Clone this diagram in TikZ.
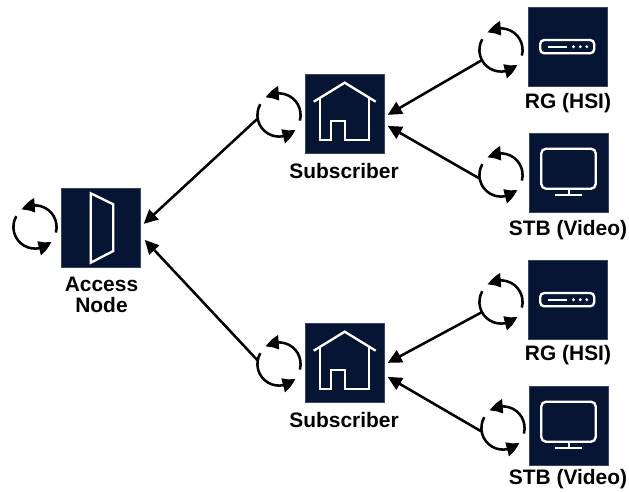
\documentclass[tikz,border=0pt]{standalone}
\usepackage{fontspec}
\setmainfont{Liberation Sans}
\usetikzlibrary{arrows.meta,bending}
\definecolor{navy}{HTML}{071535}
\tikzset{
  x=.75pt,y=.75pt,
  boxnode/.style={draw=navy!80!white,line width=.4pt,fill=navy,minimum size=59.4pt,inner sep=0pt,anchor=north west},
  icon/.style={draw=white,line width=1.75pt,line join=miter},
  cycnode/.style={circle,minimum size=32.5pt,inner sep=0pt},
  cycarc/.style={draw=black,line width=1.9pt,-{Triangle[length=10.5pt,width=10.5pt,bend]}},
  conn/.style={draw=black,line width=1.9pt,-{Triangle[length=10.5pt,width=10pt]}},
  lbl/.style={font=\fontsize{15.7}{16}\selectfont\bfseries,text=black,align=center,inner sep=0pt}
}
\newcommand{\cyc}[3]{%
  \node[cycnode] (#1) at (#2,-#3) {};
  \draw[cycarc] ([shift={(-15:16.2pt)}]#1.center) arc[start angle=-15,end angle=128,radius=16.2pt];
  \draw[cycarc] ([shift={(150:16.2pt)}]#1.center) arc[start angle=150,end angle=318,radius=16.2pt];
}
\newcommand{\house}[1]{%
  \begin{scope}[shift={(#1.north west)}]
    \draw[icon] (8.7,-27.7) -- (39.7,-8.7) -- (70.7,-27.7);
    \draw[icon] (15.3,-24) -- (15.3,-66) -- (26.3,-66) -- (26.3,-46.7) -- (39.7,-46.7) -- (39.7,-66) -- (64,-66) -- (64,-24);
  \end{scope}}
\newcommand{\rgicon}[1]{%
  \begin{scope}[shift={(#1.north west)}]
    \draw[icon,rounded corners=3pt] (12.7,-33) rectangle (66.7,-46.3);
    \draw[icon] (20,-39.7) -- (39.3,-39.7);
    \fill[white] (46,-39.7) circle (1.6) (52.7,-39.7) circle (1.6) (59.3,-39.7) circle (1.6);
  \end{scope}}
\newcommand{\stbicon}[1]{%
  \begin{scope}[shift={(#1.north west)}]
    \draw[icon,rounded corners=3.5pt] (12.3,-15.7) rectangle (66.7,-55.7);
    \draw[icon] (39.7,-55.7) -- (39.7,-62.3);
    \draw[icon] (26.3,-62.3) -- (53,-62.3);
  \end{scope}}
\begin{document}
\begin{tikzpicture}
\useasboundingbox (0,-492) rectangle (629,0);
% boxes
\node[boxnode] (A) at (61,-188) {};
\node[boxnode] (S1) at (305,-74) {};
\node[boxnode] (S2) at (305,-323) {};
\node[boxnode] (R1) at (527.5,-7) {};
\node[boxnode] (T1) at (529,-133) {};
\node[boxnode] (R2) at (527.5,-260) {};
\node[boxnode] (T2) at (529,-386) {};
% icons
\begin{scope}[shift={(A.north west)}]
  \draw[icon] (29.7,-5.3) -- (52.3,-16.3) -- (52.3,-63) -- (29.7,-74.7) -- cycle;
\end{scope}
\house{S1}\house{S2}
\rgicon{R1}\rgicon{R2}
\stbicon{T1}\stbicon{T2}
% cycles
\cyc{cA}{35}{227}
\cyc{cS1}{279}{115}
\cyc{cS2}{279}{364}
\cyc{cR1}{501}{50}
\cyc{cT1}{501}{175}
\cyc{cR2}{501}{302}
\cyc{cT2}{503}{428}
% connectors
\draw[conn] (cS1.190) -- ([shift={(3,4)}]A.east);
\draw[conn] (cS2.170) -- ([shift={(4,-12)}]A.east);
\draw[conn] (cR1.208) -- ([shift={(3,-1)}]S1.east);
\draw[conn] (cT1.189) -- ([shift={(3,-12)}]S1.east);
\draw[conn] (cR2.208) -- ([shift={(3,0)}]S2.east);
\draw[conn] (cT2.189) -- ([shift={(3,-14)}]S2.east);
% labels
\node[lbl] (lA) at (101.5,-295) {Access\\[0pt]Node};
\node[lbl] (lS1) at (344,-171) {Subscriber};
\node[lbl] (lS2) at (344,-420) {Subscriber};
\node[lbl] (lR1) at (568,-103) {RG (HSI)};
\node[lbl] (lT1) at (568,-230) {STB (Video)};
\node[lbl] (lR2) at (568,-355) {RG (HSI)};
\node[lbl] (lT2) at (568,-479) {STB (Video)};
\end{tikzpicture}
\end{document}
